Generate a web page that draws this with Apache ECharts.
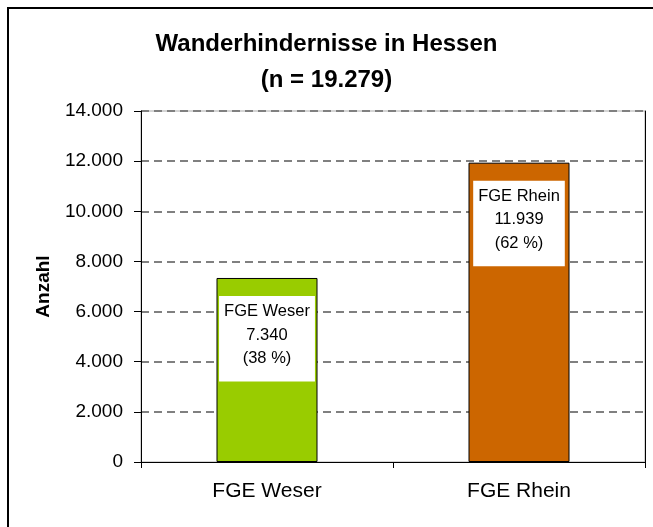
<!DOCTYPE html>
<html>
<head>
<meta charset="utf-8">
<script src="https://cdn.jsdelivr.net/npm/echarts@6/dist/echarts.min.js"></script>
<style>
  html, body { margin: 0; padding: 0; background: #fff; }
  #chart { width: 653px; height: 527px; }
</style>
</head>
<body>
<div id="chart"></div>
<script>
// Kategorien und Werte
const categories = ['FGE Weser', 'FGE Rhein'];
const counts = [7340, 11939];
const shares = [38, 62];
const barColors = ['#99CC00', '#CC6600'];
const total = 19279;

// Tausenderpunkt wie im Original
const fmt = (v) => String(v).replace(/\B(?=(\d{3})+(?!\d))/g, '.');

const FONT = 'Liberation Sans, Arial, sans-serif';

const chart = echarts.init(document.getElementById('chart'), null, { renderer: 'canvas' });

const options = {
  animation: false,
  backgroundColor: '#fff',
  textStyle: { fontFamily: FONT },
  title: {
    text: 'Wanderhindernisse in Hessen\n(n = ' + fmt(total) + ')',
    left: 'center',
    top: 26,
    padding: 0,
    textStyle: {
      fontFamily: FONT,
      fontSize: 24,
      fontWeight: 'bold',
      color: '#000',
      lineHeight: 36
    }
  },
  graphic: [
    {
      type: 'rect',
      shape: { x: 8, y: 8, width: 800, height: 700 },
      style: { fill: 'none', stroke: '#000', lineWidth: 2 },
      silent: true
    }
  ],
  grid: {
    left: 141,
    right: 8,
    top: 111,
    bottom: 65,
    show: true,
    borderColor: '#aaa',
    borderWidth: 1
  },
  xAxis: {
    type: 'category',
    data: categories,
    axisLine: { lineStyle: { color: '#000', width: 1 } },
    axisTick: { show: true, length: 6, lineStyle: { color: '#000' } },
    axisLabel: {
      color: '#000',
      fontSize: 21,
      fontFamily: FONT,
      margin: 19
    }
  },
  yAxis: [
    {
      type: 'value',
      min: 0,
      max: 14000,
      interval: 2000,
      name: 'Anzahl',
      nameLocation: 'middle',
      nameRotate: 90,
      nameGap: 88,
      nameTextStyle: {
        color: '#000',
        fontSize: 19,
        fontWeight: 'bold',
        fontFamily: FONT
      },
      axisLine: { show: true, lineStyle: { color: '#000', width: 1 } },
      axisTick: { show: true, length: 7, lineStyle: { color: '#000' } },
      axisLabel: {
        color: '#000',
        fontSize: 19,
        fontFamily: FONT,
        margin: 18,
        formatter: (v) => fmt(v)
      },
      splitLine: {
        show: true,
        showMinLine: false,
        lineStyle: { color: '#808080', type: [8, 5], width: 2 }
      }
    },
    {
      // nur fuer den schwarzen rechten Rand
      type: 'value',
      position: 'right',
      min: 0,
      max: 14000,
      interval: 2000,
      axisLine: { show: true, lineStyle: { color: '#000', width: 1 } },
      axisTick: { show: false },
      axisLabel: { show: false },
      splitLine: { show: false }
    }
  ],
  series: [
    {
      type: 'bar',
      barWidth: 101,
      data: counts.map((v, i) => ({
        value: v,
        itemStyle: { color: barColors[i] }
      })),
      itemStyle: { borderColor: '#000', borderWidth: 1 },
      label: {
        show: true,
        position: 'insideTop',
        distance: 18,
        backgroundColor: '#fff',
        padding: [4, 5, 11, 5],
        color: '#000',
        fontSize: 16.5,
        fontFamily: FONT,
        lineHeight: 23.5,
        align: 'center',
        formatter: (p) => p.name + '\n' + fmt(p.value) + '\n(' + shares[p.dataIndex] + ' %)'
      }
    }
  ]
};

chart.setOption(options);
window.addEventListener('resize', () => chart.resize(), false);
</script>
</body>
</html>
